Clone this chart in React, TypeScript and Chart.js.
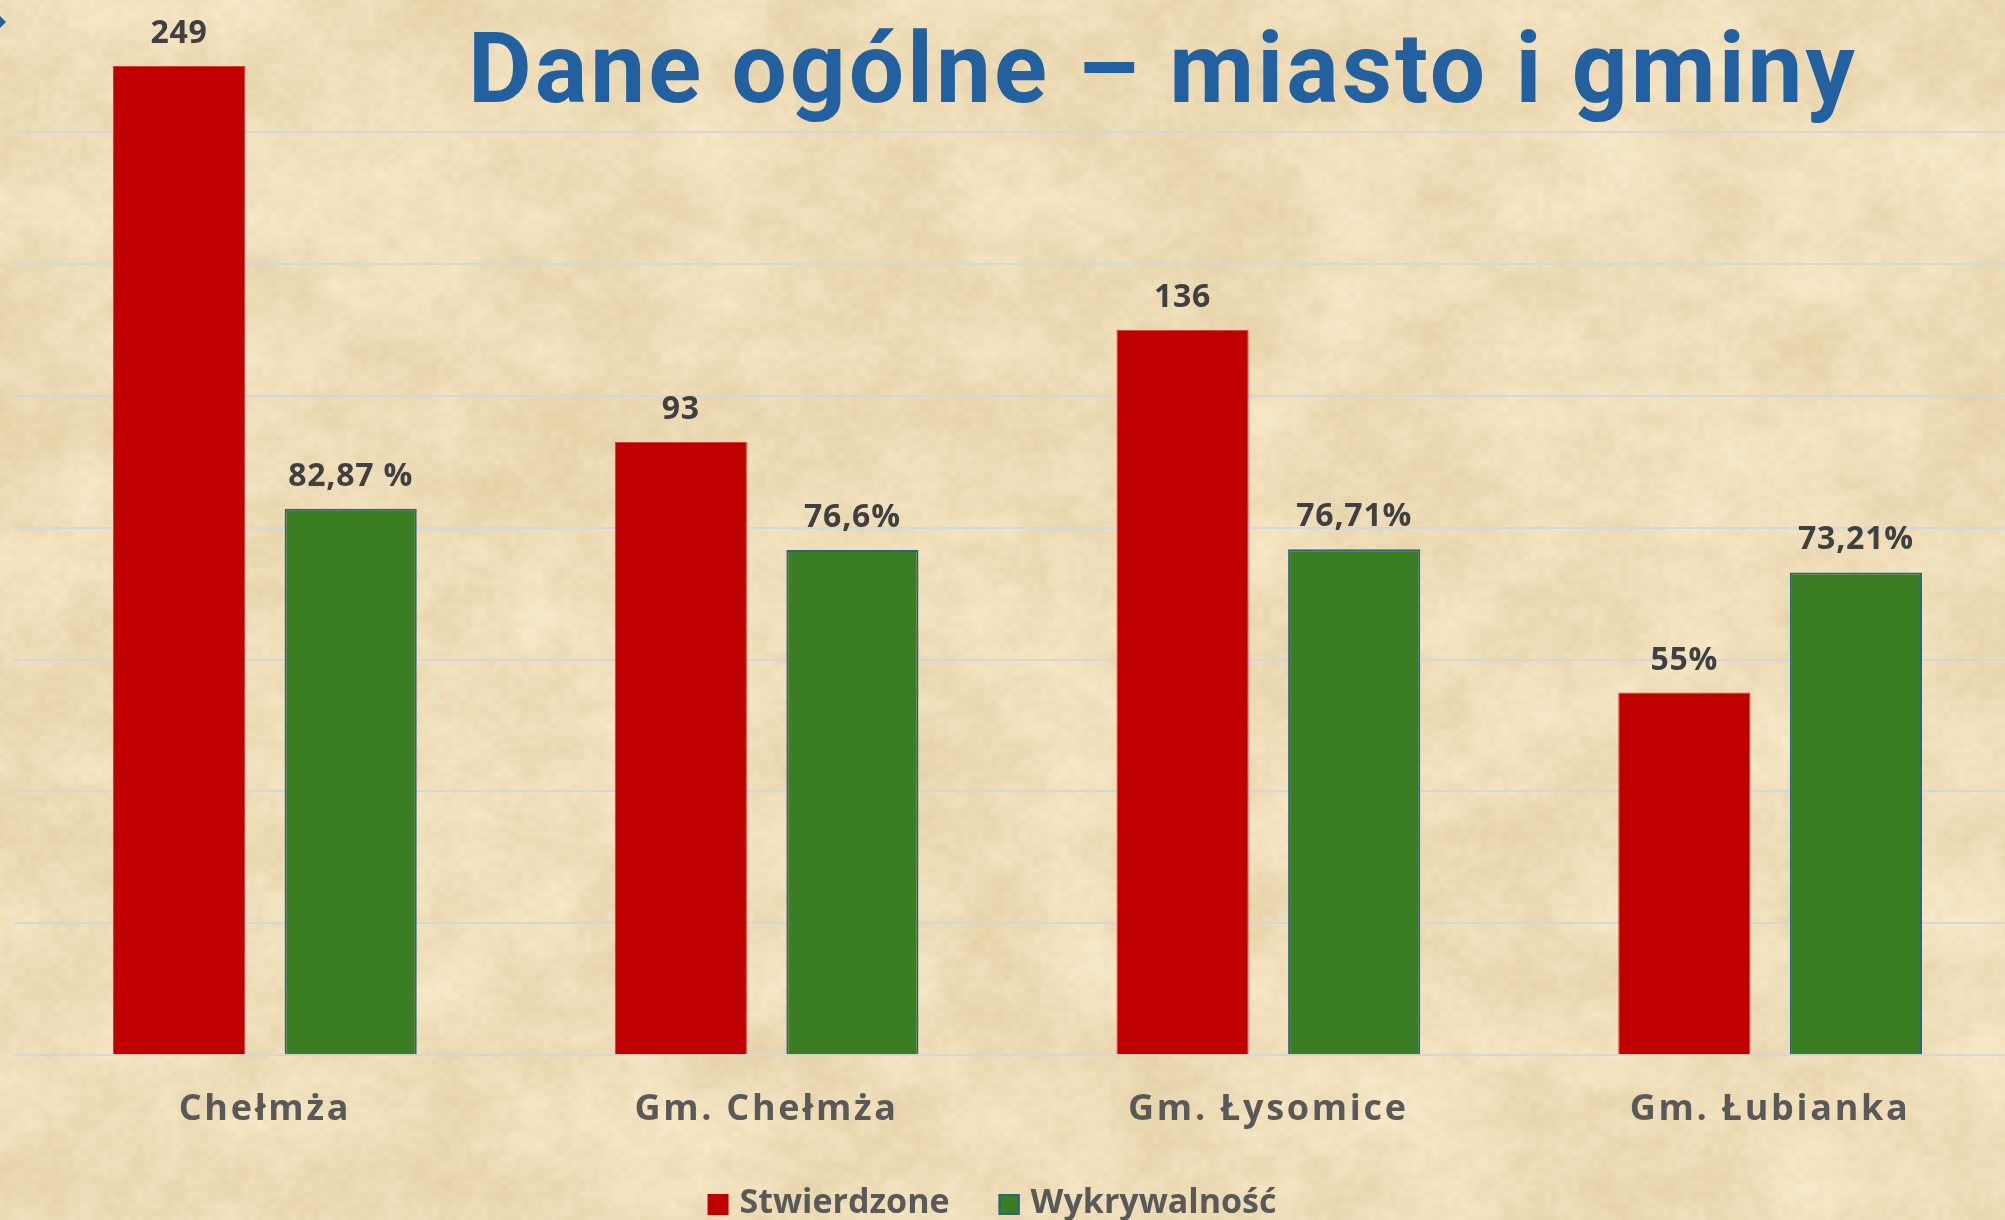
import React, { useEffect, useRef } from 'react';
import { Chart, registerables } from 'chart.js';

Chart.register(...registerables);

// ---- data ----
const categories = ['Chełmża', 'Gm. Chełmża', 'Gm. Łysomice', 'Gm. Łubianka'];
const seriesNames = ['Stwierdzone', 'Wykrywalność'];
const stwierdzoneValues = [150, 93, 110, 55];
const stwierdzoneLabels = ['249', '93', '136', '55%'];
const wykrywalnoscValues = [82.87, 76.6, 76.71, 73.21];
const wykrywalnoscLabels = ['82,87 %', '76,6%', '76,71%', '73,21%'];
const yMin = 0;
const yMax = 160;
const yStep = 20;
const titleText = 'Dane ogólne – miasto i gminy';

const W = 2021;
const H = 1220;

let paperCache: HTMLCanvasElement | null = null;

function hash(x: number, y: number) {
  let h = Math.imul(x, 374761393) + Math.imul(y, 668265263);
  h = Math.imul(h ^ (h >>> 13), 1274126177);
  h = h ^ (h >>> 16);
  return (h >>> 0) / 4294967295;
}
function smooth(t: number) {
  return t * t * (3 - 2 * t);
}
function vnoise(x: number, y: number, seed: number) {
  const xi = Math.floor(x);
  const yi = Math.floor(y);
  const xf = smooth(x - xi);
  const yf = smooth(y - yi);
  const a = hash(xi + seed, yi);
  const b = hash(xi + 1 + seed, yi);
  const c = hash(xi + seed, yi + 1);
  const d = hash(xi + 1 + seed, yi + 1);
  return a + (b - a) * xf + (c - a) * yf + (a - b - c + d) * xf * yf;
}

function getPaper(w: number, h: number) {
  if (paperCache && paperCache.width === w && paperCache.height === h) return paperCache;
  const c = document.createElement('canvas');
  c.width = w;
  c.height = h;
  const g = c.getContext('2d')!;
  const img = g.createImageData(w, h);
  const d = img.data;
  for (let y = 0; y < h; y++) {
    for (let x = 0; x < w; x++) {
      const n =
        0.45 * vnoise(x / 90, y / 70, 11) +
        0.3 * vnoise(x / 28, y / 22, 57) +
        0.25 * vnoise(x / 7, y / 6, 93) -
        0.5;
      const i = (y * w + x) * 4;
      d[i] = 238 + n * 24;
      d[i + 1] = 221 + n * 30;
      d[i + 2] = 184 + n * 42;
      d[i + 3] = 255;
    }
  }
  g.putImageData(img, 0, 0);
  paperCache = c;
  return c;
}

const decorPlugin = {
  id: 'decor',
  beforeDraw(chart: any) {
    const ctx = chart.ctx as CanvasRenderingContext2D;
    ctx.drawImage(getPaper(chart.width, chart.height), 0, 0);
    (ctx as any).letterSpacing = '2.7px';
  },
  afterDatasetsDraw(chart: any) {
    const ctx = chart.ctx as CanvasRenderingContext2D;
    ctx.save();
    (ctx as any).letterSpacing = '0.8px';
    ctx.font = 'bold 32px "Open Sans"';
    ctx.fillStyle = '#404040';
    ctx.textAlign = 'center';
    ctx.textBaseline = 'alphabetic';
    chart.data.datasets.forEach((ds: any, di: number) => {
      const meta = chart.getDatasetMeta(di);
      meta.data.forEach((bar: any, i: number) => {
        ctx.fillText(ds.valueLabels[i], bar.x, bar.y - 23);
      });
    });
    ctx.restore();
  },
  afterDraw(chart: any) {
    const ctx = chart.ctx as CanvasRenderingContext2D;
    (ctx as any).letterSpacing = '0px';
    ctx.save();
    // title
    (ctx as any).letterSpacing = '3px';
    ctx.font = 'bold 98px Roboto';
    ctx.fillStyle = '#2260A0';
    ctx.textAlign = 'center';
    ctx.textBaseline = 'alphabetic';
    ctx.fillText(titleText, 1163, 102);
    (ctx as any).letterSpacing = '0px';

    // small marker top-left
    ctx.beginPath();
    ctx.moveTo(0, 16);
    ctx.lineTo(6, 22);
    ctx.lineTo(0, 28);
    ctx.closePath();
    ctx.fill();

    // legend
    ctx.font = 'bold 34px "Open Sans"';
    ctx.textAlign = 'left';
    const box = 21;
    const gapBoxText = 11;
    const gapItems = 49;
    const items = chart.data.datasets.map((ds: any) => ({
      text: ds.label,
      fill: ds.backgroundColor,
      stroke: ds.legendBorder,
      w: ctx.measureText(ds.label).width,
    }));
    let total = 0;
    items.forEach((it: any, i: number) => {
      total += box + gapBoxText + it.w + (i < items.length - 1 ? gapItems : 0);
    });
    let x = 992 - total / 2;
    items.forEach((it: any) => {
      ctx.fillStyle = it.fill;
      ctx.fillRect(x, 1194, box, box);
      if (it.stroke) {
        ctx.strokeStyle = it.stroke;
        ctx.lineWidth = 2;
        ctx.strokeRect(x + 1, 1195, box - 2, box - 2);
      }
      ctx.fillStyle = '#595959';
      ctx.fillText(it.text, x + box + gapBoxText, 1213);
      x += box + gapBoxText + it.w + gapItems;
    });
    ctx.restore();
  },
};

export default function App() {
  const canvasRef = useRef<HTMLCanvasElement | null>(null);

  useEffect(() => {
    document.body.style.margin = '0';
    let chart: Chart | null = null;
    let cancelled = false;
    const make = () => {
      if (cancelled || !canvasRef.current) return;
      chart = new Chart(canvasRef.current, {
        type: 'bar',
        data: {
          labels: categories,
          datasets: [
            {
              label: seriesNames[0],
              data: stwierdzoneValues,
              backgroundColor: '#C00000',
              borderColor: '#D93A3A',
              borderWidth: 1,
              valueLabels: stwierdzoneLabels,
              legendBorder: null,
            } as any,
            {
              label: seriesNames[1],
              data: wykrywalnoscValues,
              backgroundColor: '#3A7D22',
              borderColor: '#2A6485',
              borderWidth: 2,
              valueLabels: wykrywalnoscLabels,
              legendBorder: '#2A6485',
            } as any,
          ],
        },
        options: {
          responsive: false,
          animation: false,
          devicePixelRatio: 1,
          categoryPercentage: 0.684,
          barPercentage: 0.77,
          layout: { padding: { left: 14, right: 0, top: 0, bottom: 55.5 } },
          plugins: {
            legend: { display: false },
            title: { display: false },
            tooltip: { enabled: false },
          },
          scales: {
            x: {
              grid: { display: false, drawTicks: false },
              border: { display: false },
              ticks: {
                color: '#595959',
                font: { family: '"Open Sans"', size: 36, weight: 'bold' },
                padding: 33,
              },
            },
            y: {
              min: yMin,
              max: yMax,
              border: { display: false },
              grid: {
                drawTicks: false,
                lineWidth: 2,
                color: (c: any) => (c.tick && c.tick.value === yMax ? 'rgba(0,0,0,0)' : '#D5D6D9'),
              },
              ticks: { display: false, stepSize: yStep },
            },
          },
        } as any,
        plugins: [decorPlugin as any],
      });
    };
    const fonts = (document as any).fonts;
    if (fonts && fonts.load) {
      Promise.all([
        fonts.load('bold 34px "Open Sans"'),
        fonts.load('bold 98px Roboto'),
      ]).then(make, make);
    } else {
      make();
    }
    return () => {
      cancelled = true;
      if (chart) chart.destroy();
    };
  }, []);

  return (
    <div
      style={{
        position: 'relative',
        width: 2005,
        height: 1220,
        overflow: 'hidden',
        background: '#F0E0BE',
      }}
    >
      <canvas ref={canvasRef} width={W} height={H} style={{ width: W, height: H, display: 'block' }} />
    </div>
  );
}
